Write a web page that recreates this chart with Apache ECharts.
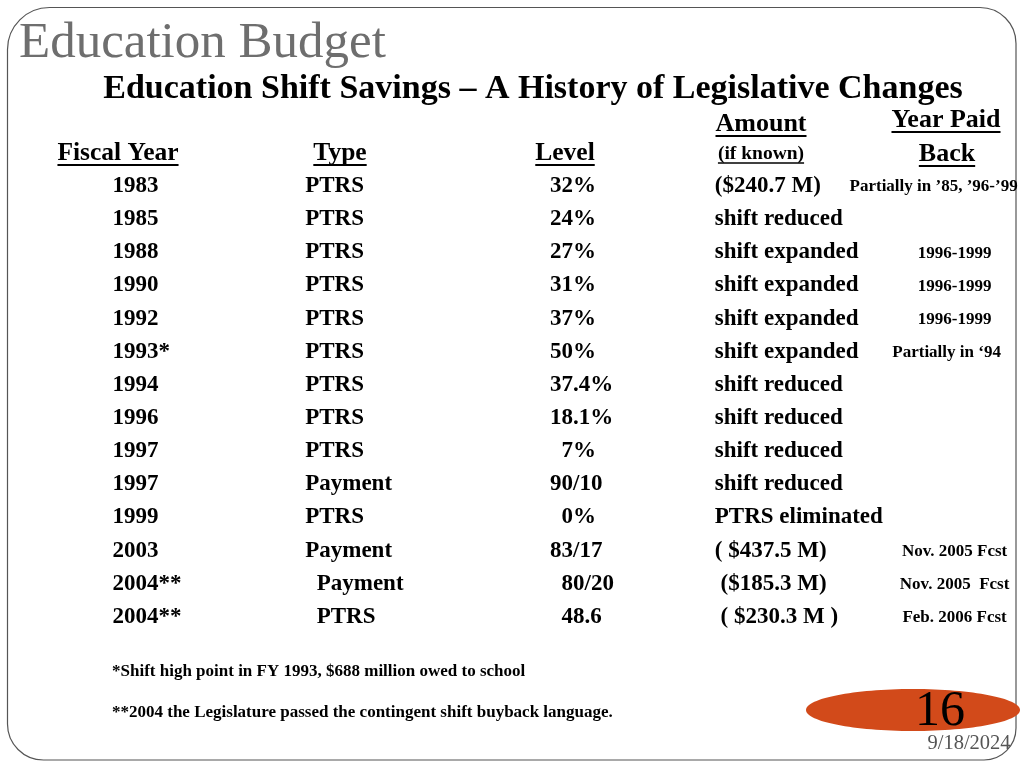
<!DOCTYPE html>
<html>
<head>
<meta charset="utf-8">
<script src="https://cdn.jsdelivr.net/npm/echarts@6/dist/echarts.min.js"></script>
<style>
html,body{margin:0;padding:0;background:#fff;}
#chart{width:1024px;height:768px;}
</style>
</head>
<body>
<div id="chart"></div>
<script>
// ---- data ----
var columns = ['Fiscal Year', 'Type', 'Level', 'Amount', 'Year Paid Back'];
var fiscalYears = ['1983','1985','1988','1990','1992','1993*','1994','1996','1997','1997','1999','2003','2004**','2004**'];
var types = ['PTRS','PTRS','PTRS','PTRS','PTRS','PTRS','PTRS','PTRS','PTRS','Payment','PTRS','Payment','  Payment','  PTRS'];
var levels = ['32%','24%','27%','31%','37%','50%','37.4%','18.1%','  7%','90/10','  0%','83/17','  80/20','  48.6'];
var amounts = ['($240.7 M)','shift reduced','shift expanded','shift expanded','shift expanded','shift expanded','shift reduced','shift reduced','shift reduced','shift reduced','PTRS eliminated','( $437.5 M)',' ($185.3 M)',' ( $230.3 M )'];
var paidBack = ['Partially in \u201985, \u201996-\u201999','','1996-1999','1996-1999','1996-1999','Partially in \u201894','','','','','','Nov. 2005 Fcst','Nov. 2005  Fcst','Feb. 2006 Fcst'];
var titleText = 'Education Budget';
var subtitleText = 'Education Shift Savings \u2013 A History of Legislative Changes';
var footnotes = ['*Shift high point in FY 1993, $688 million owed to school', '**2004 the Legislature passed the contingent shift buyback language.'];
var pageNumber = '16';
var dateText = '9/18/2024';

// ---- layout ----
var SERIF = '"Liberation Serif","Times New Roman",serif';
var rowIdx = fiscalYears.map(function(_, i){ return String(i); });

var colCfg = [
  {texts: fiscalYears, align: 'left', dx: 10, size: 23},
  {texts: types, align: 'left', dx: -2, size: 23},
  {texts: levels, align: 'left', dx: 38, size: 23},
  {texts: amounts, align: 'left', dx: -2, size: 23},
  {texts: paidBack, align: 'center', dx: 33, size: 17, dy: 1, rowDx: {0: -21, 5: -8}}
];

var series = colCfg.map(function(c, ci){
  var data = [];
  c.texts.forEach(function(t, ri){
    if (!t) return;
    var item = {value: [ci, ri], name: t};
    if (c.rowDx && c.rowDx[ri] != null) item.label = {offset: [c.dx + c.rowDx[ri], c.dy || 0]};
    data.push(item);
  });
  return {
    type: 'scatter',
    silent: true,
    symbolSize: 0,
    itemStyle: {color: 'transparent', opacity: 1},
    data: data,
    label: {
      show: true,
      position: 'inside',
      align: c.align,
      verticalAlign: 'middle',
      offset: [c.dx, c.dy || 0],
      formatter: function(p){ return p.name; },
      fontFamily: SERIF,
      fontWeight: 'bold',
      fontSize: c.size,
      color: '#000',
      opacity: 1,
      textBorderWidth: 0,
      textBorderColor: 'transparent'
    }
  };
});

var ctx = document.createElement('canvas').getContext('2d');
function measure(text, size, weight){
  ctx.font = (weight || 'bold') + ' ' + size + 'px ' + SERIF;
  return ctx.measureText(text).width;
}

var graphics = [];
// border
graphics.push({type:'rect', shape:{x:7.5, y:7.5, width:1008.5, height:752.5, r:[42,36,32,36]},
  style:{fill:'none', stroke:'#555', lineWidth:1.2}, silent:true});
// title
graphics.push({type:'text', x:19, y:44, style:{text:titleText, font:'normal 51px ' + SERIF, fill:'#6e6e6e', textVerticalAlign:'middle'}});
graphics.push({type:'text', x:533, y:89, style:{text:subtitleText, font:'bold 34px ' + SERIF, fill:'#000', textAlign:'center', textVerticalAlign:'middle'}});

// headers (centered at cx, underlined)
var headers = [
  {t:'Fiscal Year', cx:118, y:153, size:25.5, uy:165},
  {t:'Type', cx:340, y:153, size:25.5, uy:165},
  {t:'Level', cx:565, y:153, size:25.5, uy:165},
  {t:'Amount', cx:761, y:124, size:26, uy:136},
  {t:'(if known)', cx:761, y:154, size:19.5, uy:163},
  {t:'Year Paid', cx:946, y:120, size:26, uy:132},
  {t:'Back', cx:947, y:154, size:26, uy:166}
];
headers.forEach(function(h){
  var w = measure(h.t, h.size);
  graphics.push({type:'text', x:h.cx, y:h.y, style:{text:h.t, font:'bold ' + h.size + 'px ' + SERIF, fill:'#000', textAlign:'center', textVerticalAlign:'middle'}});
  graphics.push({type:'line', shape:{x1:h.cx - w/2, y1:h.uy, x2:h.cx + w/2, y2:h.uy}, style:{stroke:'#000', lineWidth: h.size > 20 ? 2 : 1.5}});
});

// footnotes
graphics.push({type:'text', x:112, y:672, style:{text:footnotes[0], font:'bold 17px ' + SERIF, fill:'#000', textVerticalAlign:'middle'}});
graphics.push({type:'text', x:112, y:713, style:{text:footnotes[1], font:'bold 17px ' + SERIF, fill:'#000', textVerticalAlign:'middle'}});

// page badge
graphics.push({type:'ellipse', shape:{cx:913, cy:710, rx:107, ry:21}, style:{fill:'#D24A1A'}});
graphics.push({type:'text', x:940, y:712, style:{text:pageNumber, font:'normal 50px ' + SERIF, fill:'#000', textAlign:'center', textVerticalAlign:'middle'}});
graphics.push({type:'text', x:969, y:744, style:{text:dateText, font:'normal 20.5px ' + SERIF, fill:'#555', textAlign:'center', textVerticalAlign:'middle'}});

var chart = echarts.init(document.getElementById('chart'), null, {renderer:'canvas'});
chart.setOption({
  animation: false,
  backgroundColor: '#fff',
  grid: {left: 0, right: 0, top: 169.5, bottom: 134.5, containLabel: false},
  xAxis: {type:'category', data: columns, show: false, boundaryGap: true},
  yAxis: {type:'category', data: rowIdx, inverse: true, show: false, boundaryGap: true},
  series: series,
  graphic: graphics
});
</script>
</body>
</html>
